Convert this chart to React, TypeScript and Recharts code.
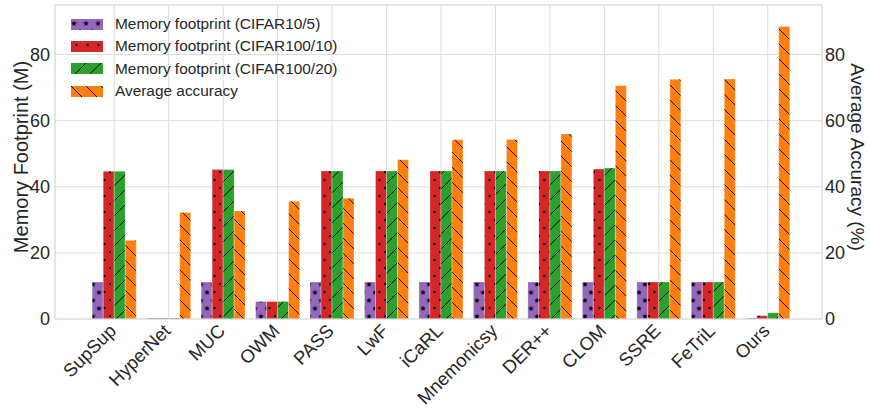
import { Bar, BarChart, CartesianGrid, ReferenceLine, XAxis, YAxis } from "recharts";

const methods = ["SupSup", "HyperNet", "MUC", "OWM", "PASS", "LwF", "iCaRL", "Mnemonicsy", "DER++", "CLOM", "SSRE", "FeTriL", "Ours"];
const memCifar10 = [11.2, 0.3, 11.2, 5.3, 11.2, 11.2, 11.2, 11.2, 11.2, 11.2, 11.2, 11.2, 0.3];
const memCifar100x10 = [44.7, 0.3, 45.2, 5.3, 44.8, 44.8, 44.8, 44.8, 44.8, 45.4, 11.2, 11.2, 1.0];
const memCifar100x20 = [44.7, 0.3, 45.2, 5.3, 44.8, 44.8, 44.8, 44.8, 44.8, 45.7, 11.2, 11.2, 1.9];
const avgAccuracy = [23.8, 32.2, 32.7, 35.6, 36.5, 48.2, 54.2, 54.3, 56.0, 70.6, 72.5, 72.6, 88.5];
const yTicks = [0, 20, 40, 60, 80];

const data = methods.map((name, i) => ({
  name,
  c10: memCifar10[i],
  c100_10: memCifar100x10[i],
  c100_20: memCifar100x20[i],
  acc: avgAccuracy[i],
}));

const series = [
  { key: "c10", label: "Memory footprint (CIFAR10/5)", fill: "url(#hStar)" },
  { key: "c100_10", label: "Memory footprint (CIFAR100/10)", fill: "url(#hDot)" },
  { key: "c100_20", label: "Memory footprint (CIFAR100/20)", fill: "url(#hSlash)" },
  { key: "acc", label: "Average accuracy", fill: "url(#hBack)" },
];

const FONT = "'Liberation Sans', Arial, sans-serif";
const TXT = "#262626";
const GRID = "#dcdcdc";

function star(cx: number, cy: number, R: number) {
  const r = R * 0.42;
  const pts: string[] = [];
  for (let k = 0; k < 10; k++) {
    const rad = k % 2 === 0 ? R : r;
    const a = -Math.PI / 2 + (k * Math.PI) / 5;
    pts.push(`${(cx + rad * Math.cos(a)).toFixed(2)},${(cy + rad * Math.sin(a)).toFixed(2)}`);
  }
  return pts.join(" ");
}

function Patterns() {
  return (
    <svg width={0} height={0} style={{ position: "absolute" }}>
      <defs>
        <pattern id="hStar" patternUnits="userSpaceOnUse" width={12} height={16}>
          <rect width={12} height={16} fill="#9467bd" />
          <polygon points={star(3, 4.5, 3)} fill="#000" />
          <polygon points={star(9, 12.5, 3)} fill="#000" />
        </pattern>
        <pattern id="hDot" patternUnits="userSpaceOnUse" width={11} height={16}>
          <rect width={11} height={16} fill="#d62728" />
          <circle cx={5.5} cy={4} r={1.2} fill="#000" />
          <circle cx={0} cy={12} r={1.2} fill="#000" />
          <circle cx={11} cy={12} r={1.2} fill="#000" />
        </pattern>
        <pattern id="hSlash" patternUnits="userSpaceOnUse" width={15} height={15}>
          <rect width={15} height={15} fill="#2ca02c" />
          <path d="M0,15 L15,0 M-2,2 L2,-2 M13,17 L17,13" stroke="#111" strokeWidth={1} />
        </pattern>
        <pattern id="hBack" patternUnits="userSpaceOnUse" width={15} height={15}>
          <rect width={15} height={15} fill="#ff7f0e" />
          <path d="M0,0 L15,15 M-2,13 L2,17 M13,-2 L17,2" stroke="#111" strokeWidth={1} />
        </pattern>
      </defs>
    </svg>
  );
}

function XTick({ x, y, payload }: any) {
  const px = x + 3;
  const py = y + 11;
  return (
    <text x={px} y={py} transform={`rotate(-45, ${px}, ${py})`} textAnchor="end" fontSize={18.5} fontFamily={FONT} fill={TXT}>
      {payload.value}
    </text>
  );
}

function AxisTitles() {
  const cy = 157;
  return (
    <svg width={870} height={409} style={{ position: "absolute", left: 0, top: 0, pointerEvents: "none" }}>
      <text x={21} y={cy} transform={`rotate(-90, 21, ${cy})`} textAnchor="middle" dominantBaseline="central" fontSize={20} fontFamily={FONT} fill={TXT}>
        Memory Footprint (M)
      </text>
      <text x={857} y={cy} transform={`rotate(90, 857, ${cy})`} textAnchor="middle" dominantBaseline="central" fontSize={19} fontFamily={FONT} fill={TXT}>
        Average Accuracy (%)
      </text>
    </svg>
  );
}

function LegendBox() {
  return (
    <div style={{ position: "absolute", left: 71, top: 13, fontFamily: FONT, fontSize: 15.4, color: TXT, lineHeight: "22.3px" }}>
      {series.map((s) => (
        <div key={s.key} style={{ display: "flex", alignItems: "center", height: 22.3 }}>
          <svg width={32} height={11} style={{ marginRight: 12 }}>
            <rect width={32} height={11} fill={s.fill} />
          </svg>
          <span>{s.label}</span>
        </div>
      ))}
    </div>
  );
}

export default function App() {
  return (
    <div style={{ position: "absolute", left: 0, top: 0, width: 870, height: 409, background: "#fff" }}>
      <Patterns />
      <BarChart
        width={870}
        height={409}
        data={data}
        margin={{ top: 5, right: 0, bottom: 0, left: 0 }}
        barCategoryGap={5.2}
        barGap={0}
      >
        <CartesianGrid yAxisId="left" stroke={GRID} strokeWidth={1} />
        <XAxis
          dataKey="name"
          height={90}
          interval={0}
          padding={{ left: 32, right: 27 }}
          tickLine={false}
          tickSize={0}
          axisLine={{ stroke: GRID }}
          tick={<XTick />}
        />
        <YAxis
          yAxisId="left"
          width={55}
          domain={[0, 95]}
          ticks={yTicks}
          tickLine={false}
          tickSize={0}
          tickMargin={5}
          axisLine={{ stroke: GRID }}
          tick={{ fontSize: 18, fontFamily: FONT, fill: TXT }}
        />
        <YAxis
          yAxisId="right"
          orientation="right"
          width={48}
          domain={[0, 95]}
          ticks={yTicks}
          tickLine={false}
          tickSize={0}
          tickMargin={3}
          axisLine={{ stroke: GRID }}
          tick={{ fontSize: 18, fontFamily: FONT, fill: TXT }}
        />
        <ReferenceLine yAxisId="left" y={95} stroke={GRID} />
        <Bar yAxisId="left" dataKey="c10" fill="url(#hStar)" stroke="#fff" strokeOpacity={0.5} strokeWidth={0.6} isAnimationActive={false} />
        <Bar yAxisId="left" dataKey="c100_10" fill="url(#hDot)" stroke="#fff" strokeOpacity={0.5} strokeWidth={0.6} isAnimationActive={false} />
        <Bar yAxisId="left" dataKey="c100_20" fill="url(#hSlash)" stroke="#fff" strokeOpacity={0.5} strokeWidth={0.6} isAnimationActive={false} />
        <Bar yAxisId="right" dataKey="acc" fill="url(#hBack)" stroke="#fff" strokeOpacity={0.5} strokeWidth={0.6} isAnimationActive={false} />
      </BarChart>
      <AxisTitles />
      <LegendBox />
    </div>
  );
}
